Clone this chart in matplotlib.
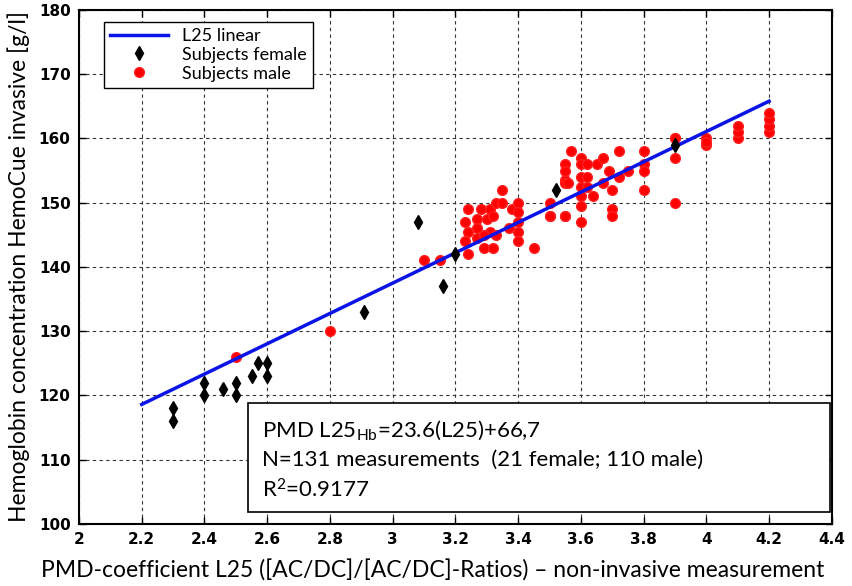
import matplotlib.pyplot as plt
from matplotlib.patches import Rectangle

#----- data -----
fit_x = [2.2, 4.2]
fit_y = [118.6, 165.8]

female_x = [2.3, 2.3, 2.4, 2.4, 2.46, 2.5, 2.5, 2.55, 2.57, 2.6, 2.6,
            2.91, 3.08, 3.16, 3.2, 3.52, 3.9]
female_y = [118, 116, 122, 120, 121, 122, 120, 123, 125, 125, 123,
            133, 147, 137, 142, 152, 159]

male_x = [2.5, 2.8, 3.1, 3.15,
          3.24, 3.24, 3.28, 3.31, 3.23, 3.27, 3.30, 3.32, 3.24, 3.27, 3.31,
          3.23, 3.27, 3.29, 3.32, 3.33, 3.29, 3.35, 3.33, 3.35, 3.38, 3.37,
          3.4, 3.4, 3.4, 3.4, 3.4, 3.45, 3.5, 3.5, 3.5, 3.55, 3.55, 3.55,
          3.57, 3.6, 3.55, 3.55, 3.6, 3.62, 3.65, 3.67, 3.72, 3.8, 3.8, 3.8,
          3.69, 3.75, 3.72, 3.56, 3.6, 3.62, 3.6, 3.62, 3.67, 3.7, 3.64,
          3.6, 3.8, 3.6, 3.55, 3.6, 3.7, 3.7, 3.9, 3.9, 3.9, 3.9,
          4.0, 4.0, 4.0, 4.1, 4.1, 4.1, 4.2, 4.2, 4.2, 4.2]
male_y = [126, 130, 141, 141,
          142, 149, 149, 149, 147, 147.5, 147.5, 148, 145.5, 146, 145.5,
          144, 144.5, 143, 143, 145, 145, 152, 150, 150, 149, 146,
          150, 148.5, 147, 145.5, 144, 143, 150, 148, 148, 153.5, 148, 156,
          158, 157, 155, 153, 156, 156, 156, 157, 158, 158, 156, 155,
          155, 155, 154, 153, 154, 154, 152.5, 152.5, 153, 152, 151,
          151, 152, 149.5, 148, 147, 149, 148, 160, 157, 150, 160,
          159, 160, 159.5, 160, 161, 162, 161, 162, 163, 164]

plt.rcParams['mathtext.fontset'] = 'custom'
plt.rcParams['mathtext.rm'] = 'Lato'
plt.rcParams['mathtext.it'] = 'Lato'

fig = plt.figure(figsize=(8.53, 5.86), dpi=100)
ax = fig.add_axes([0.0926, 0.106, 0.8826, 0.877])

ax.plot(fit_x, fit_y, color='#0a14e6', linewidth=2.5, label='L25 linear', zorder=3)
ax.plot(female_x, female_y, linestyle='none', marker='d', color='black',
        markersize=7.5, label='Subjects female', zorder=4)
ax.plot(male_x, male_y, linestyle='none', marker='o', color='red',
        markeredgecolor='#ff2020', markersize=7, label='Subjects male', zorder=2)

ax.set_xlim(2, 4.4)
ax.set_ylim(100, 180)
ax.set_xticks([2, 2.2, 2.4, 2.6, 2.8, 3, 3.2, 3.4, 3.6, 3.8, 4, 4.2, 4.4])
ax.set_xticklabels(['2', '2.2', '2.4', '2.6', '2.8', '3', '3.2', '3.4', '3.6',
                    '3.8', '4', '4.2', '4.4'])
ax.set_yticks(range(100, 181, 10))
ax.grid(True, color='#333333', linestyle=(0, (3, 3)), linewidth=0.8)
ax.tick_params(direction='in', top=True, right=True, length=5, width=1, pad=6,
               labelsize=11)
for lab in ax.get_xticklabels() + ax.get_yticklabels():
    lab.set_fontfamily('Liberation Sans Narrow')
    lab.set_fontweight('bold')
for s in ax.spines.values():
    s.set_linewidth(1.5)

ax.set_xlabel('PMD-coefficient L25 ([AC/DC]/[AC/DC]-Ratios) \u2013 non-invasive measurement',
              fontfamily='Lato', fontsize=16.5, labelpad=7)
ax.xaxis.set_label_coords(0.47, -0.07)
ax.set_ylabel('Hemoglobin concentration HemoCue invasive [g/l]',
              fontfamily='Lato', fontsize=16.5, labelpad=6)

leg = ax.legend(loc='upper left', bbox_to_anchor=(0.033, 0.977), borderaxespad=0,
                fancybox=False, edgecolor='black', framealpha=1, handlelength=3.2,
                prop={'family': 'Lato', 'size': 13}, labelspacing=0.15,
                borderpad=0.35)
leg.get_frame().set_linewidth(1.0)

#----- text box -----
ax.add_patch(Rectangle((0.2244, 0.024), 0.7726, 0.212, transform=ax.transAxes,
                       facecolor='white', edgecolor='black', linewidth=1.2, zorder=5))
ax.text(0.243, 0.183, 'PMD L25$_{\\mathrm{Hb}}$=23.6(L25)+66,7', transform=ax.transAxes,
        fontfamily='Lato', fontsize=16, va='center', zorder=6)
ax.text(0.243, 0.125, 'N=131 measurements  (21 female; 110 male)', transform=ax.transAxes,
        fontfamily='Lato', fontsize=16, va='center', zorder=6)
ax.text(0.243, 0.066, 'R$^{2}$=0.9177', transform=ax.transAxes,
        fontfamily='Lato', fontsize=16, va='center', zorder=6)

plt.savefig('out.png', dpi=100)
